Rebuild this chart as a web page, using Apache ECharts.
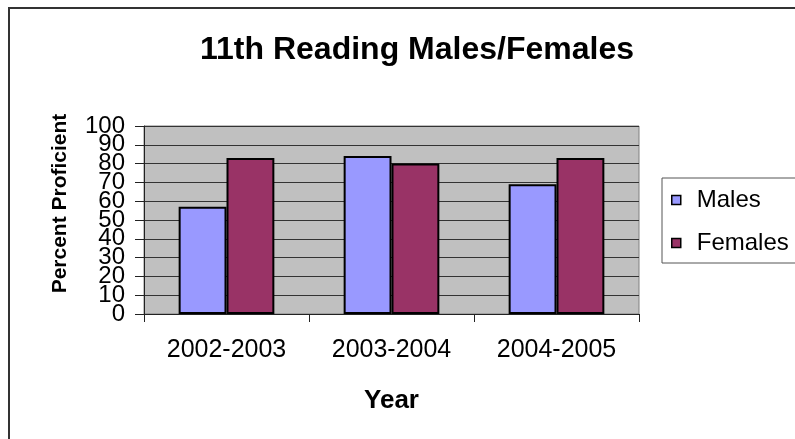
<!DOCTYPE html>
<html>
<head>
<meta charset="utf-8">
<script src="https://cdn.jsdelivr.net/npm/echarts@6/dist/echarts.min.js"></script>
<style>
  html, body { margin: 0; padding: 0; background: #fff; }
  #chart { width: 795px; height: 439px; }
</style>
</head>
<body>
<div id="chart"></div>
<script>
// 数据
var years = ['2002-2003', '2003-2004', '2004-2005'];
var males = [57, 84, 69];
var females = [83, 80, 83];
var seriesNames = ['Males', 'Females'];

var FONT = '"Liberation Sans", Arial, sans-serif';

var myChart = echarts.init(document.getElementById('chart'));

// y轴刻度标签太挤，ECharts会自动隐藏重叠的，拆成两个轴：一个显示0,20,..100，另一个显示10,30,..90
var yLabelBase = {
    fontFamily: FONT, fontSize: 24, color: '#000', margin: 19,
    showMinLabel: true, showMaxLabel: true, hideOverlap: false
};

var option = {
    animation: false,
    backgroundColor: '#fff',
    title: {
        text: '11th Reading Males/Females',
        left: 412,
        top: 29,
        textAlign: 'center',
        textStyle: { fontFamily: FONT, fontSize: 32, fontWeight: 'bold', color: '#000' }
    },
    legend: {
        data: seriesNames,
        orient: 'vertical',
        left: 662,
        top: 178,
        padding: [10, 20, 8, 9],
        itemGap: 19,
        itemWidth: 9,
        itemHeight: 9,
        icon: 'rect',
        borderColor: '#555',
        borderWidth: 1,
        itemStyle: { borderColor: '#000', borderWidth: 1.5 },
        textStyle: { fontFamily: FONT, fontSize: 24, color: '#000', padding: [0, 0, 0, 11] }
    },
    grid: {
        left: 144,
        right: 156,
        top: 126,
        bottom: 125,
        show: true,
        backgroundColor: '#C0C0C0',
        borderColor: '#808080',
        borderWidth: 1
    },
    xAxis: {
        type: 'category',
        data: years,
        name: 'Year',
        nameLocation: 'middle',
        nameGap: 74,
        nameTextStyle: { fontFamily: FONT, fontSize: 26, fontWeight: 'bold', color: '#000' },
        axisLine: { lineStyle: { color: '#222', width: 1 } },
        axisTick: { show: true, length: 8, lineStyle: { color: '#222' } },
        axisLabel: { fontFamily: FONT, fontSize: 25, color: '#000', margin: 24 }
    },
    yAxis: [
        {
            type: 'value',
            min: 0,
            max: 100,
            interval: 10,
            name: 'Percent Proficient',
            nameLocation: 'middle',
            nameGap: 73,
            nameTextStyle: {
                fontFamily: FONT, fontSize: 21, fontWeight: 'bold', color: '#000',
                padding: [0, 0, 0, 33]   // 往上挪一点
            },
            axisLine: { show: true, lineStyle: { color: '#222', width: 1 } },
            axisTick: { show: true, length: 9, lineStyle: { color: '#222' } },
            axisLabel: Object.assign({}, yLabelBase, {
                formatter: function (v) { return v % 20 === 0 ? String(v) : ''; }
            }),
            splitLine: { show: true, lineStyle: { color: '#333', width: 1 } }
        },
        {
            type: 'value',
            position: 'left',
            min: 0,
            max: 100,
            interval: 10,
            axisLine: { show: false },
            axisTick: { show: false },
            splitLine: { show: false },
            axisLabel: Object.assign({}, yLabelBase, {
                formatter: function (v) { return v % 20 === 10 ? String(v) : ''; }
            })
        }
    ],
    series: [
        {
            name: seriesNames[0],
            type: 'bar',
            data: males,
            barGap: '0%',
            barCategoryGap: '42%',
            itemStyle: { color: '#9999FF', borderColor: '#000', borderWidth: 2 }
        },
        {
            name: seriesNames[1],
            type: 'bar',
            data: females,
            itemStyle: { color: '#993366', borderColor: '#000', borderWidth: 2 }
        }
    ],
    graphic: [
        {
            type: 'rect',
            shape: { x: 9, y: 8, width: 900, height: 600 },
            style: { fill: null, stroke: '#333', lineWidth: 2 },
            silent: true
        }
    ]
};

myChart.setOption(option);
</script>
</body>
</html>
